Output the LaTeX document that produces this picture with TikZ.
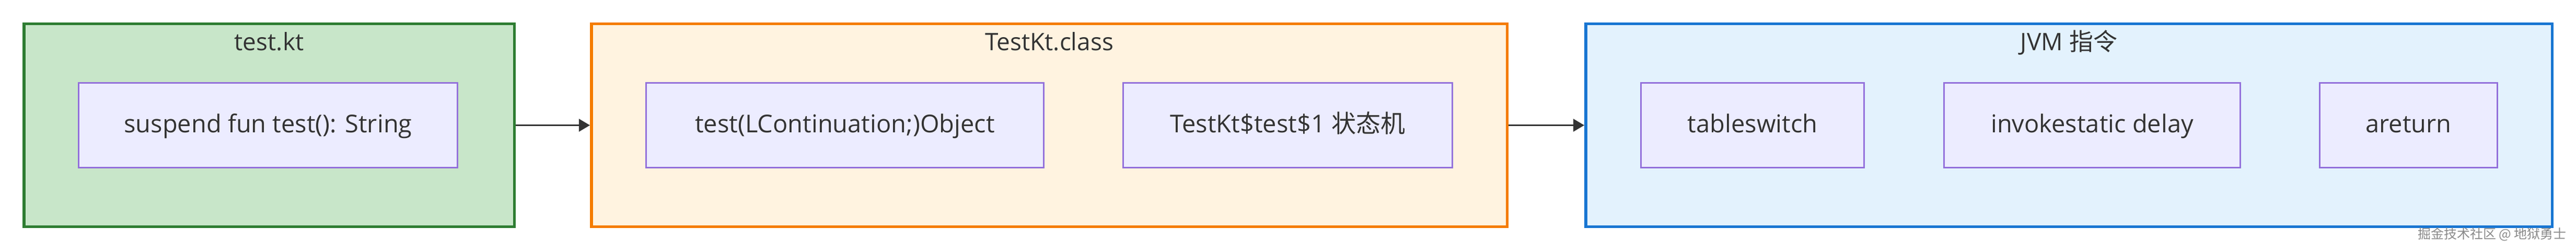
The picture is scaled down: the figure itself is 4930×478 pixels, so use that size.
\documentclass[tikz,border=0pt]{standalone}
\usepackage{fontspec}
\setmainfont{Open Sans}
\newfontfamily\cjk{Noto Sans CJK SC}
\usetikzlibrary{arrows.meta}
\definecolor{gborder}{HTML}{2E7D32}
\definecolor{gfill}{HTML}{C8E6C9}
\definecolor{oborder}{HTML}{F57C00}
\definecolor{ofill}{HTML}{FFF3E0}
\definecolor{bborder}{HTML}{1976D2}
\definecolor{bfill}{HTML}{E3F2FD}
\definecolor{nborder}{HTML}{9370DB}
\definecolor{nfill}{HTML}{ECECFF}
\definecolor{txt}{HTML}{333333}
\definecolor{wm}{HTML}{8A8A8A}
\tikzset{
  group/.style={draw, line width=5.5pt, minimum height=387.5pt, inner sep=0pt},
  inode/.style={draw=nborder, fill=nfill, line width=3pt, minimum height=162pt, inner sep=0pt},
  itext/.style={anchor=base, font=\fontsize{47}{50}\selectfont, text=txt, inner sep=0pt},
  gtitle/.style={anchor=base, font=\fontsize{46}{50}\selectfont, text=txt, inner sep=0pt},
  arr/.style={draw=txt, line width=3pt, -{Triangle[length=21pt,width=24pt]}}
}
\begin{document}
\begin{tikzpicture}[x=1pt,y=-1pt]
\useasboundingbox (0,0) rectangle (4930,478);
% groups
\node[group, draw=gborder, fill=gfill, minimum width=938.5pt] (g1) at (515,239.5) {};
\node[group, draw=oborder, fill=ofill, minimum width=1752.5pt] (g2) at (2008,239.5) {};
\node[group, draw=bborder, fill=bfill, minimum width=1849.5pt] (g3) at (3959.5,239.5) {};
% titles
\node[gtitle] (t1) at (515,97) {test.kt};
\node[gtitle] (t2) at (2008,97) {TestKt.class};
\node[gtitle] (t3) at (3959.5,97) {JVM {\cjk 指令}};
% inner nodes
\node[inode, minimum width=725pt] (a) at (513,239.5) {};
\node[inode, minimum width=761pt] (b) at (1617,239.5) {};
\node[inode, minimum width=630pt] (c) at (2464.5,239.5) {};
\node[inode, minimum width=427pt] (d) at (3354,239.5) {};
\node[inode, minimum width=567pt] (e) at (4004,239.5) {};
\node[inode, minimum width=340pt] (f) at (4609.5,239.5) {};
% inner texts
\node[itext] (at) at (513,254) {suspend fun test(): String};
\node[itext] (bt) at (1617,254) {test(LContinuation;)Object};
\node[itext] (ct) at (2464.5,254) {TestKt\$test\$1 {\cjk 状态机}};
\node[itext] (dt) at (3354,254) {tableswitch};
\node[itext] (et) at (4004,254) {invokestatic delay};
\node[itext] (ft) at (4609.5,254) {areturn};
% connectors
\draw[arr] (g1.east) -- (g2.west);
\draw[arr] (g2.east) -- (g3.west);
% watermark
\node[anchor=base east, inner sep=0pt, text=wm, font=\cjk\fontsize{25}{27}\selectfont] (wmk) at (4912,456) {掘金技术社区 @ 地狱勇士};
\end{tikzpicture}
\end{document}
